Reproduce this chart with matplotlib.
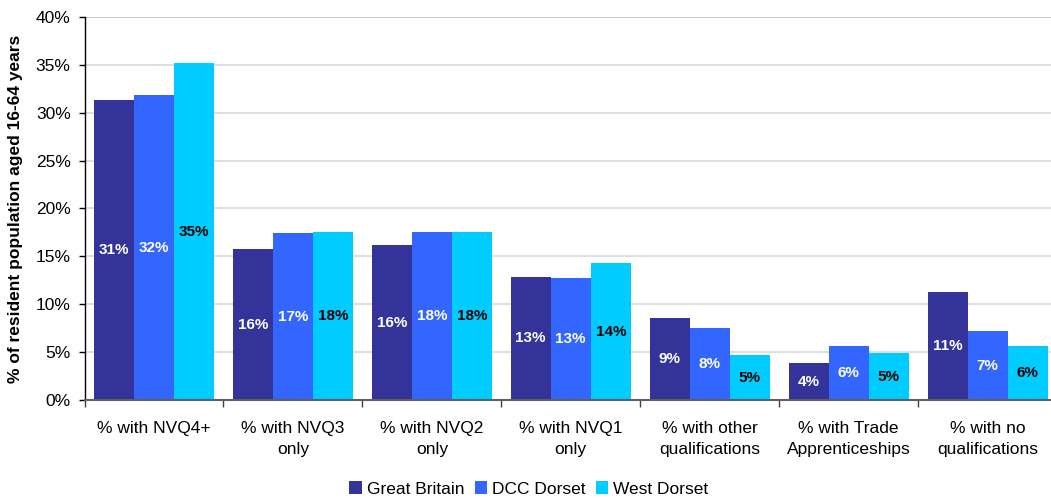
import matplotlib
matplotlib.use("Agg")
import matplotlib.pyplot as plt
import numpy as np

plt.rcParams['font.family'] = ['Liberation Sans', 'DejaVu Sans']

categories = [
    "% with NVQ4+",
    "% with NVQ3\nonly",
    "% with NVQ2\nonly",
    "% with NVQ1\nonly",
    "% with other\nqualifications",
    "% with Trade\nApprenticeships",
    "% with no\nqualifications",
]
series_names = ["Great Britain", "DCC Dorset", "West Dorset"]
great_britain = [31.3, 15.8, 16.2, 12.9, 8.6, 3.9, 11.3]
dcc_dorset = [31.8, 17.4, 17.6, 12.8, 7.5, 5.7, 7.2]
west_dorset = [35.2, 17.6, 17.5, 14.3, 4.7, 4.9, 5.7]
y_ticks = [0, 5, 10, 15, 20, 25, 30, 35, 40]

colors = ["#333399", "#3366FF", "#00CCFF"]
label_colors = ["white", "white", "black"]

fig = plt.figure(figsize=(10.51, 4.99), dpi=100)
ax = fig.add_axes([84.5 / 1051, 1 - 400.3 / 499, (1057 - 84.5) / 1051, (400.3 - 16.7) / 499])

x = np.arange(len(categories))
bar_w = 0.288
data = [great_britain, dcc_dorset, west_dorset]
for i, (vals, name) in enumerate(zip(data, series_names)):
    pos = x + (i - 1) * bar_w
    ax.bar(pos, vals, width=bar_w, color=colors[i], label=name, zorder=2, linewidth=0)
    for px, v in zip(pos, vals):
        ax.text(px, v / 2, f"{round(v):d}%", ha="center", va="center",
                color=label_colors[i], fontsize=11, fontweight="bold", zorder=3)

ax.set_xlim(-0.5, len(categories) - 0.5)
ax.set_ylim(0, 40)
ax.set_yticks(y_ticks)
ax.set_yticklabels([f"{t}%" for t in y_ticks], fontsize=12.5)
ax.set_xticks(x)
ax.set_xticklabels(categories, fontsize=12.5, linespacing=1.45)
ax.tick_params(axis="x", length=0, pad=15)
ax.set_xticks(np.arange(-0.5, len(categories), 1), minor=True)
ax.tick_params(axis="x", which="minor", length=5, color="#404040", width=1)
ax.tick_params(axis="y", length=4, width=1, color="black", pad=6)

for t in y_ticks[1:]:
    ax.axhline(t, color="#c0c0c0" if t == 40 else "#dcdcdc", linewidth=1.3, zorder=1)

for s in ["top", "right"]:
    ax.spines[s].set_visible(False)
ax.spines["left"].set_color("black")
ax.spines["left"].set_linewidth(1)
ax.spines["bottom"].set_color("#606060")
ax.spines["bottom"].set_linewidth(1.5)
ax.spines["bottom"].set_zorder(4)

ax.set_ylabel("% of resident population aged 16-64 years", fontsize=12.5, fontweight="bold", labelpad=9)

fig.legend(loc="center", bbox_to_anchor=(529 / 1051, 1 - 489 / 499), ncol=3, frameon=False,
           fontsize=12.5, handlelength=0.7, handleheight=0.7, handletextpad=0.3, columnspacing=0.6)

fig.savefig("out.png", dpi=100)
